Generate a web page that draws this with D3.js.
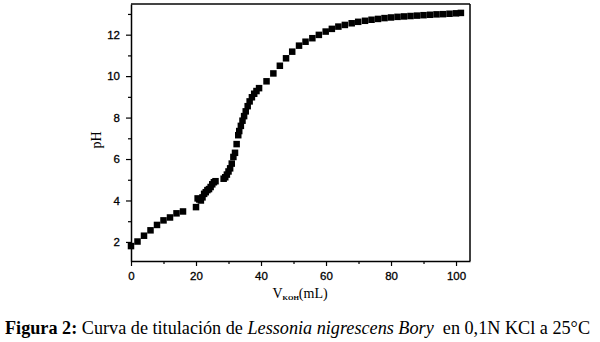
<!DOCTYPE html>
<html>
<head>
<meta charset="utf-8">
<script src="https://cdn.jsdelivr.net/npm/d3@7"></script>
<style>
  body { margin: 0; background: #fff; }
  svg { display: block; }
</style>
</head>
<body>
<svg id="chart"></svg>
<script>
// 图表尺寸
var width = 600;
var height = 342;
var margin = {top: 4, right: 130, bottom: 81, left: 131};

// 数据：KOH 体积 (mL) 和 pH
var volume = [0, 2, 4, 6, 8, 10, 12, 14, 16,
    20, 20.5, 21, 21.5, 22, 22.5, 23, 23.5, 24, 24.5, 25, 25.5, 26,
    28.5, 29, 29.5, 30, 30.5, 31, 31.5, 32, 32.5, 33, 33.3, 33.8, 34.3, 34.8, 35.3, 35.9, 36.5, 37.2, 37.9, 38.6, 39.4,
    41.7, 43.8, 45.8, 47.7, 49.6, 51.7, 53.7, 55.8, 57.8, 59.9, 61.8, 63.8, 65.8, 67.9, 69.9,
    72, 74, 76, 78, 80, 82, 84, 86, 88, 90, 92, 94, 96, 98, 100, 101.5];
var ph = [1.8, 2.02, 2.3, 2.56, 2.82, 3.04, 3.18, 3.38, 3.47,
    3.68, 4.1, 4.05, 4.0, 4.15, 4.32, 4.4, 4.5, 4.55, 4.65, 4.78, 4.88, 4.93,
    5.05, 5.12, 5.25, 5.4, 5.55, 5.78, 6.1, 6.3, 6.72, 7.15, 7.35, 7.6, 7.85, 8.07, 8.3, 8.55, 8.78, 8.98, 9.15, 9.28, 9.42,
    9.75, 10.13, 10.5, 10.86, 11.18, 11.47, 11.66, 11.83, 11.99, 12.15, 12.28, 12.39, 12.47, 12.55, 12.62,
    12.67, 12.72, 12.76, 12.8, 12.83, 12.86, 12.88, 12.9, 12.92, 12.94, 12.96, 12.98, 12.99, 13.01, 13.03, 13.05];

var xTicks = [0, 20, 40, 60, 80, 100];
var xMinor = [10, 30, 50, 70, 90];
var yTicks = [2, 4, 6, 8, 10, 12];
var yMinor = [3, 5, 7, 9, 11, 13];

var data = volume.map((v, i) => ({v: v, ph: ph[i]}));

var svg = d3.select("#chart")
    .attr("width", width)
    .attr("height", height);

svg.append("rect").attr("width", width).attr("height", height).attr("fill", "#fff");

// 比例尺
var x = d3.scaleLinear()
    .domain([0, 104.3])
    .range([margin.left, width - margin.right]);

var y = d3.scaleLinear()
    .domain([1.08, 13.48])
    .range([height - margin.bottom, margin.top]);

// 边框
svg.append("line")
    .attr("x1", x.range()[0]).attr("x2", x.range()[1])
    .attr("y1", margin.top).attr("y2", margin.top)
    .attr("stroke", "#444").attr("stroke-width", 2);
svg.append("line")
    .attr("x1", x.range()[1]).attr("x2", x.range()[1])
    .attr("y1", margin.top).attr("y2", height - margin.bottom)
    .attr("stroke", "#000").attr("stroke-width", 1.5);

// 坐标轴
svg.append("g")
    .attr("transform", `translate(0,${height - margin.bottom})`)
    .call(d3.axisBottom(x).tickValues(xTicks).tickSize(5).tickPadding(6).tickSizeOuter(0));
svg.append("g")
    .attr("transform", `translate(0,${height - margin.bottom})`)
    .call(d3.axisBottom(x).tickValues(xMinor).tickSize(3).tickFormat("").tickSizeOuter(0))
    .select(".domain").remove();

svg.append("g")
    .attr("transform", `translate(${margin.left},0)`)
    .call(d3.axisLeft(y).tickValues(yTicks).tickSize(5).tickPadding(6).tickSizeOuter(0));
svg.append("g")
    .attr("transform", `translate(${margin.left},0)`)
    .call(d3.axisLeft(y).tickValues(yMinor).tickSize(3).tickFormat("").tickSizeOuter(0))
    .select(".domain").remove();

svg.selectAll(".domain").attr("stroke", "#000").attr("stroke-width", 1.5);
svg.selectAll(".tick line").attr("stroke", "#000").attr("stroke-width", 1.2);
svg.selectAll(".tick text")
    .attr("font-family", "Liberation Sans, Arial, sans-serif")
    .attr("font-size", 11.5)
    .attr("fill", "#000")
    .attr("stroke", "#000")
    .attr("stroke-width", 0.3);

// 数据点
var size = 6.5;
svg.append("g")
    .selectAll("rect")
    .data(data)
    .join("rect")
    .attr("x", d => x(d.v) - size / 2)
    .attr("y", d => y(d.ph) - size / 2)
    .attr("width", size)
    .attr("height", size)
    .attr("fill", "#000");

// 轴标题
svg.append("text")
    .attr("transform", "translate(101,140) rotate(-90)")
    .attr("text-anchor", "middle")
    .attr("font-family", "Liberation Serif, Times New Roman, serif")
    .attr("font-size", 14)
    .text("pH");

var xt = svg.append("text")
    .attr("x", 300)
    .attr("y", 298)
    .attr("text-anchor", "middle")
    .attr("font-family", "Liberation Serif, Times New Roman, serif")
    .attr("font-size", 14);
xt.append("tspan").text("V");
xt.append("tspan").attr("font-size", 7).attr("font-weight", "bold").attr("dy", 2).text("KOH");
xt.append("tspan").attr("dy", -2).text("(mL)");

// 图注
var cap = svg.append("text")
    .attr("x", 5)
    .attr("y", 334)
    .attr("font-family", "Liberation Serif, Times New Roman, serif")
    .attr("font-size", 18.2)
    .style("white-space", "pre");
cap.append("tspan").attr("font-weight", "bold").text("Figura 2:");
cap.append("tspan").text(" Curva de titulación de ");
cap.append("tspan").attr("font-style", "italic").text("Lessonia nigrescens Bory");
cap.append("tspan").text("  en 0,1N KCl a 25°C");
</script>
</body>
</html>
